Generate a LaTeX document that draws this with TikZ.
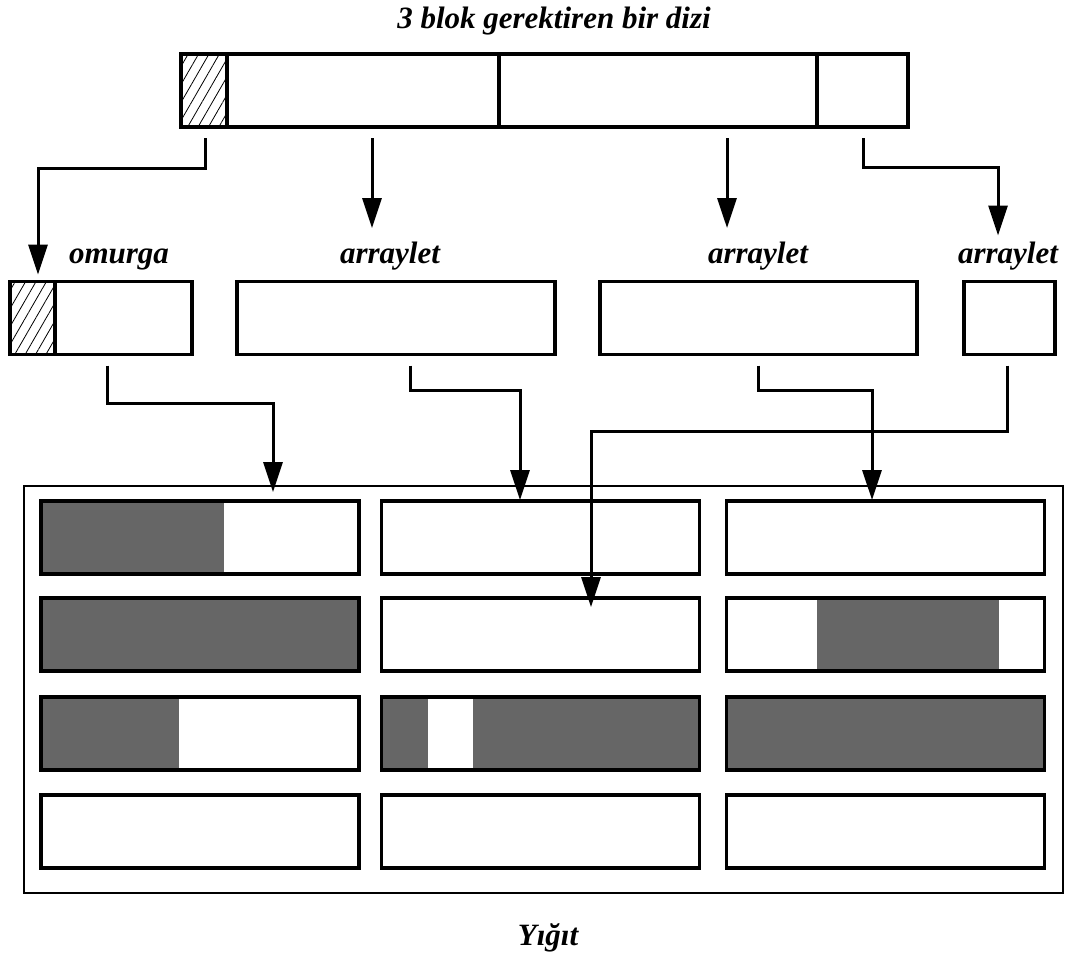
\documentclass[tikz,border=0pt]{standalone}
\usepackage{fontspec}
\setmainfont{Liberation Serif}
\usetikzlibrary{positioning,arrows.meta,patterns.meta}
\definecolor{usedgray}{RGB}{102,102,102}

\begin{document}
\begin{tikzpicture}[x=1pt, y=-1pt,
cell/.style={draw,line width=3.6pt,minimum height=73pt,inner sep=0pt,outer sep=0pt},
hatch/.style={cell,pattern={Lines[angle=60,distance=9pt,line width=0.8pt]}},
block/.style={cell,minimum width=318pt},
lbl/.style={anchor=base,font=\fontsize{31}{36}\selectfont\bfseries\itshape},
link/.style={line width=3pt,-{Triangle[length=30pt,width=19pt]}}]

\useasboundingbox (0,0) rectangle (1065,956);

% the array
\node[lbl] (title) at (554,28) {3 blok gerektiren bir dizi};
\node[hatch,minimum width=46pt] (t0) at (204,90.5) {};
\node[cell,minimum width=272pt] (t1) at (363,90.5) {};
\node[cell,minimum width=318pt] (t2) at (658,90.5) {};
\node[cell,minimum width=91pt] (t3) at (862.5,90.5) {};

% spine and arraylets
\node[hatch,minimum width=45pt] (ohatch) at (32.5,318) {};
\node[cell,minimum width=137pt] (obody) at (123.5,318) {};
\node[cell,minimum width=318pt] (al1) at (396,318) {};
\node[cell,minimum width=317pt] (al2) at (758.5,318) {};
\node[cell,minimum width=91pt] (al3) at (1009.5,318) {};
\node[lbl] (lomurga) at (119,263) {omurga};
\node[lbl] (lal1) at (390,263) {arraylet};
\node[lbl] (lal2) at (758,263) {arraylet};
\node[lbl] (lal3) at (1008,263) {arraylet};

% heap
\node[draw,line width=2.5pt,minimum width=1039pt,minimum height=407pt,inner sep=0pt] (heap) at (543.5,689.5) {};
\fill[usedgray] (41,501) rectangle (224,574);
\fill[usedgray] (41,598) rectangle (359,671);
\fill[usedgray] (817,598) rectangle (999,671);
\fill[usedgray] (41,697) rectangle (179,770);
\fill[usedgray] (383,697) rectangle (428,770);
\fill[usedgray] (473,697) rectangle (698,770);
\fill[usedgray] (726,697) rectangle (1045,770);
\node[block] (b11) at (200,537.5) {};
\node[block] (b12) at (540.5,537.5) {};
\node[block] (b13) at (885.5,537.5) {};
\node[block] (b21) at (200,634.5) {};
\node[block] (b22) at (540.5,634.5) {};
\node[block] (b23) at (885.5,634.5) {};
\node[block] (b31) at (200,733.5) {};
\node[block] (b32) at (540.5,733.5) {};
\node[block] (b33) at (885.5,733.5) {};
\node[block] (b41) at (200,831.5) {};
\node[block] (b42) at (540.5,831.5) {};
\node[block] (b43) at (885.5,831.5) {};
\node[lbl] (lheap) at (548,945) {Yığıt};

% pointers
\draw[link] ([xshift=1pt,yshift=-11pt]t0.south) -- ++(0,30) -| ([xshift=5.5pt,yshift=7pt]ohatch.north);
\draw[link] ([xshift=9pt,yshift=-11pt]t1.south) -- ++(0,90);
\draw[link] ([xshift=69pt,yshift=-11pt]t2.south) -- ++(0,90);
\draw[link] ([xshift=0.5pt,yshift=-11pt]t3.south) -- ++(0,29) -| ([xshift=-11.5pt,yshift=46pt]al3.north);
\draw[link] ([xshift=-16.5pt,yshift=-11pt]obody.south) -- ++(0,38) -| ([xshift=73pt,yshift=9pt]b11.north);
\draw[link] ([xshift=14pt,yshift=-11pt]al1.south) -- ++(0,25) -| ([xshift=-20.5pt,yshift=1pt]b12.north);
\draw[link] ([xshift=-0.5pt,yshift=-11pt]al2.south) -- ++(0,25) -| ([xshift=-13.5pt,yshift=1pt]b13.north);
\draw[link] ([xshift=-2.5pt,yshift=-11pt]al3.south) -- ++(0,66) -| ([xshift=50.5pt,yshift=-9pt]b22.north);
\end{tikzpicture}
\end{document}
